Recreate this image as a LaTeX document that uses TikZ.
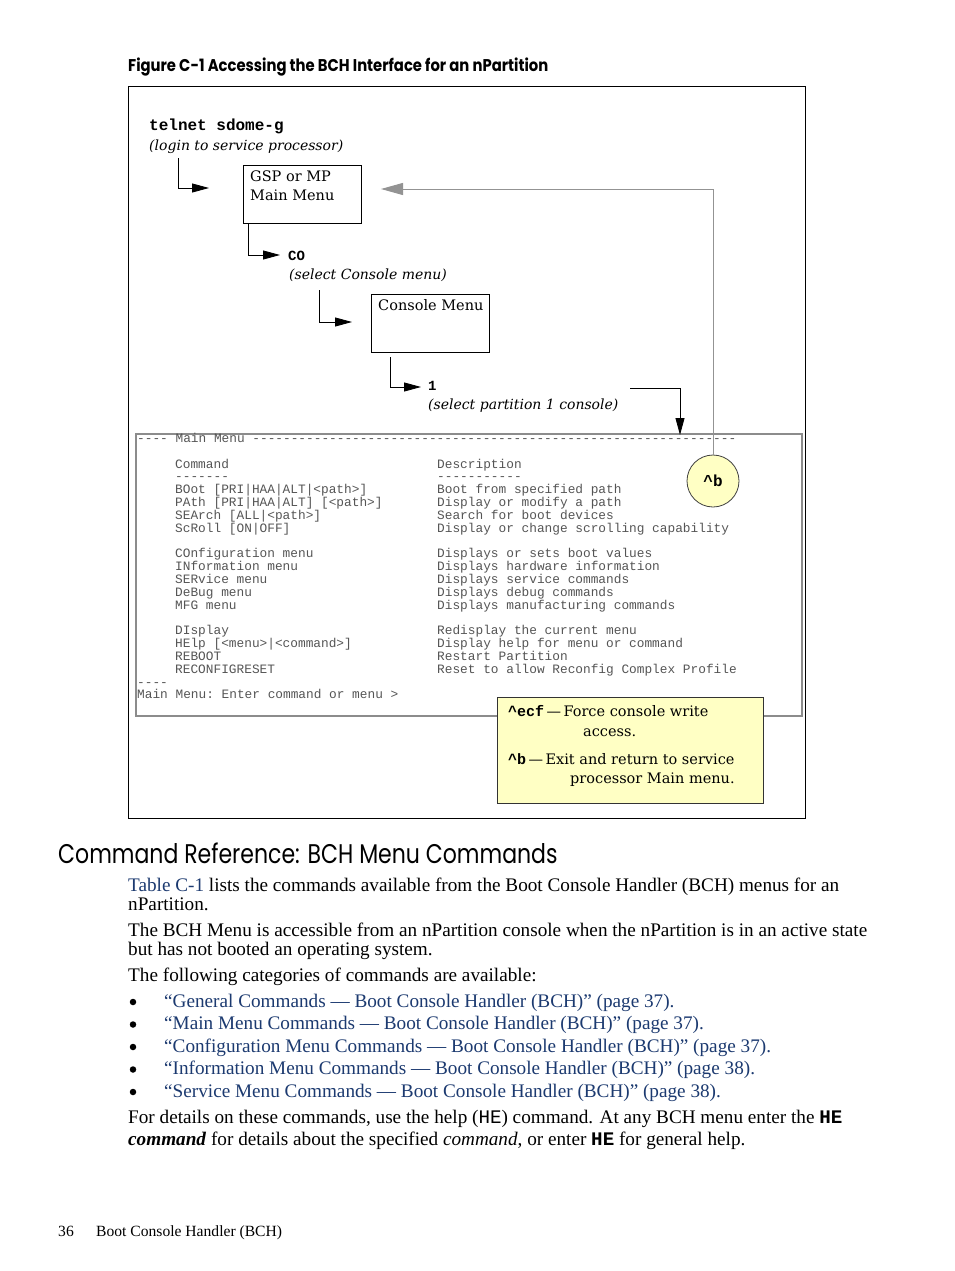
\documentclass[tikz,border=0pt]{standalone}
\usepackage{fontspec}
\usepackage{graphicx}
\setmonofont{Liberation Mono}
\newfontfamily\bodyfont{Liberation Serif}
\newfontfamily\headfont{Poppins}
\newfontfamily\figfont{DejaVu Serif}
\usetikzlibrary{arrows.meta,positioning}

\definecolor{notefill}{RGB}{255,255,196}
\definecolor{linkblue}{RGB}{28,58,112}
\definecolor{termgray}{RGB}{85,85,85}

\begin{document}
\begin{tikzpicture}[x=1pt,y=-1pt,>={Triangle[length=17pt,width=9pt]},
  txt/.style={anchor=base west,inner sep=0pt},
  flow/.style={->,line width=0.8pt},
  back/.style={-{Triangle[length=22pt,width=12pt]},draw=gray!85,line width=1pt},
  menubox/.style={draw,line width=0.8pt,anchor=north west,minimum width=118pt,minimum height=58pt,inner sep=0pt},
  diag/.style={txt,font=\figfont\fontsize{14.5}{14.5}\selectfont},
  italic/.style={font=\figfont\itshape\fontsize{14}{14}\selectfont},
  cmd/.style={txt,font=\ttfamily\bfseries\fontsize{15}{15}\selectfont},
  term/.style={txt,text=termgray,font=\ttfamily\fontsize{12.8}{12.8}\selectfont},
  body/.style={txt,font=\bodyfont\fontsize{19.2}{19}\selectfont},
  link/.style={body,text=linkblue},
  dot/.style={circle,fill=black,inner sep=0pt,minimum size=6.5pt}]

% page
\fill[white] (0,0) rectangle (954,1271);
\useasboundingbox (0,0) rectangle (954,1271);

% caption and frame
\node[txt,font=\headfont\bfseries\fontsize{17}{17}\selectfont] (caption) at (128,72) {\scalebox{0.87}[1]{Figure C-1 Accessing the BCH Interface for an nPartition}};
\node[draw,line width=0.8pt,anchor=north west,minimum width=677pt,minimum height=732pt,inner sep=0pt] (frame) at (128,86) {};

% login step
\node[cmd,font=\ttfamily\bfseries\fontsize{16}{16}\selectfont] (telnet) at (149,131) {telnet sdome-g};
\node[txt,italic] (login) at (149,150) {(login to service processor)};
\node[menubox] (gsp) at (243,165) {};
\node[diag] (gsptxt) at (250,181) {GSP or MP};
\node[diag] (gsptxt2) at (250,200) {Main Menu};

% console step
\node[cmd,font=\ttfamily\bfseries\fontsize{14}{14}\selectfont] (co) at (288,260) {CO};
\node[txt,italic] (selco) at (289,279) {(select Console menu)};
\node[menubox] (console) at (371,294) {};
\node[diag] (contxt) at (378,310) {Console Menu};

% partition step
\node[cmd,font=\ttfamily\bfseries\fontsize{14}{14}\selectfont] (one) at (428,390) {1};
\node[txt,italic] (selpart) at (428,409) {(select partition 1 console)};

% BCH main menu screen
\node[draw=gray!90,line width=1.5pt,anchor=north west,minimum width=666pt,minimum height=282pt,inner sep=0pt] (bch) at (135,433) {};
\node[term] (hdr) at (137,442) {---- Main Menu ---------------------------------------------------------------};
\foreach \r/\c/\d in {0/Command/Description, 1/-------/-----------,
    2/{BOot [PRI|HAA|ALT|<path>]}/{Boot from specified path},
    3/{PAth [PRI|HAA|ALT] [<path>]}/{Display or modify a path},
    4/{SEArch [ALL|<path>]}/{Search for boot devices},
    5/{ScRoll [ON|OFF]}/{Display or change scrolling capability},
    7/{COnfiguration menu}/{Displays or sets boot values},
    8/{INformation menu}/{Displays hardware information},
    9/{SERvice menu}/{Displays service commands},
    10/{DeBug menu}/{Displays debug commands},
    11/{MFG menu}/{Displays manufacturing commands},
    13/{DIsplay}/{Redisplay the current menu},
    14/{HElp [<menu>|<command>]}/{Display help for menu or command},
    15/{REBOOT}/{Restart Partition},
    16/{RECONFIGRESET}/{Reset to allow Reconfig Complex Profile}}
{
  \node[term] (c\r) at (175,468+12.83*\r) {\c};
  \node[term] (d\r) at (437,468+12.83*\r) {\d};
}
\node[term] (sep) at (137,468+12.83*17) {----};
\node[term] (prompt) at (137,468+12.83*18) {Main Menu: Enter command or menu >};

% escape keys
\node[circle,draw=black!75,fill=notefill,line width=0.8pt,minimum size=52pt,inner sep=0pt,
  font=\ttfamily\bfseries\fontsize{16}{16}\selectfont] (bhat) at (713,481) {\textasciicircum b};
\node[draw=black!80,fill=notefill,line width=0.8pt,anchor=north west,minimum width=266pt,minimum height=106pt,inner sep=0pt] (keys) at (497,697) {};
\node[diag] (k1) at (508,716) {\texttt{\bfseries\fontsize{15}{15}\selectfont\textasciicircum ecf}\,—\,Force console write};
\node[diag] (k2) at (583,736) {access.};
\node[diag] (k3) at (508,764) {\texttt{\bfseries\fontsize{15}{15}\selectfont\textasciicircum b}\,—\,Exit and return to service};
\node[diag] (k4) at (570,783) {processor Main menu.};

% connectors
\coordinate (a1) at (178,158);  \coordinate (a1t) at (209,188);
\coordinate (a2) at (248,223);  \coordinate (a2t) at (280,255);
\coordinate (a3) at (319,290);  \coordinate (a3t) at (352,322);
\coordinate (a4) at (390,357);  \coordinate (a4t) at (421,387);
\coordinate (a5) at (630,388);  \coordinate (a5t) at (680,435);
\coordinate (gspin) at (381,189);
\draw[flow] (a1) |- (a1t);
\draw[flow] (a2) |- (a2t);
\draw[flow] (a3) |- (a3t);
\draw[flow] (a4) |- (a4t);
\draw[flow] (a5) -| (a5t);
\draw[back] (bhat.north) |- (gspin);

% section text
\node[txt,font=\headfont\fontsize{27}{27}\selectfont] (sect) at (58,863) {\scalebox{0.815}[1]{Command Reference: BCH Menu Commands}};
\node[body] (p1) at (128,891) {\textcolor{linkblue}{Table C-1} lists the commands available from the Boot Console Handler (BCH) menus for an};
\node[body] (p1b) at (128,910) {nPartition.};
\node[body] (p2) at (128,936) {The BCH Menu is accessible from an nPartition console when the nPartition is in an active state};
\node[body] (p2b) at (128,955) {but has not booted an operating system.};
\node[body] (p3) at (128,981) {The following categories of commands are available:};
\foreach \i/\t in {0/{“General Commands — Boot Console Handler (BCH)” (page 37).},
    1/{“Main Menu Commands — Boot Console Handler (BCH)” (page 37).},
    2/{“Configuration Menu Commands — Boot Console Handler (BCH)” (page 37).},
    3/{“Information Menu Commands — Boot Console Handler (BCH)” (page 38).},
    4/{“Service Menu Commands — Boot Console Handler (BCH)” (page 38).}}
{
  \node[dot] (b\i) at (133,1002+22.5*\i) {};
  \node[link] (l\i) at (164,1007+22.5*\i) {\t};
}
\node[body] (p4) at (128,1123) {For details on these commands, use the help (\texttt{HE}) command. At any BCH menu enter the \texttt{\bfseries HE}};
\node[body] (p4b) at (128,1145) {\textbf{\textit{command}} for details about the specified \textit{command}, or enter \texttt{\bfseries HE} for general help.};

% footer
\node[txt,font=\bodyfont\fontsize{15.6}{15.6}\selectfont] (pgno) at (58,1236) {36};
\node[txt,font=\bodyfont\fontsize{15.6}{15.6}\selectfont] (foot) at (96,1236) {Boot Console Handler (BCH)};
\end{tikzpicture}
\end{document}
